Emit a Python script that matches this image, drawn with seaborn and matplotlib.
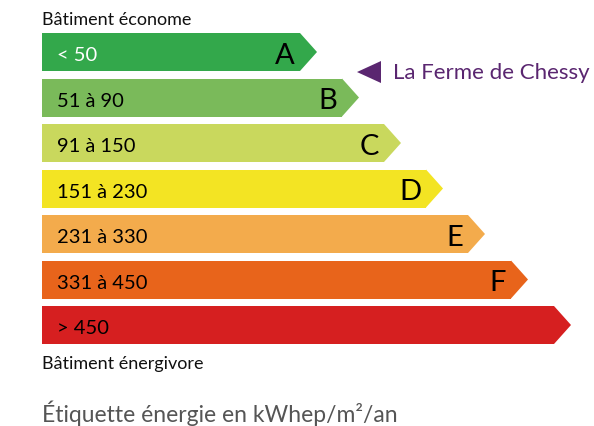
import numpy as np
import matplotlib
matplotlib.use("Agg")
import matplotlib.pyplot as plt
from matplotlib.patches import Polygon
import seaborn as sns

sns.set_theme(style="white")
plt.rcParams['font.family'] = ['Lato', 'DejaVu Sans']

# Energy label classes
grades = ['A', 'B', 'C', 'D', 'E', 'F', 'G']
ranges = ['< 50', '51 à 90', '91 à 150', '151 à 230', '231 à 330', '331 à 450', '> 450']
lengths = [258, 300, 342, 384, 426, 469, 512]
colors = ['#33a84b', '#7aba5a', '#c9d85d', '#f3e423', '#f3ab4c', '#e8641b', '#d61f20']
range_colors = ['white', 'black', 'black', 'black', 'black', 'black', 'black']
letters = ['A', 'B', 'C', 'D', 'E', 'F', '']
building_name = 'La Ferme de Chessy'
building_grade = 'A'  # arrow sits between A and B

fig = plt.figure(figsize=(5.94, 4.27), dpi=100)
ax = fig.add_axes([0, 0, 1, 1])

bar_h = 38 / 45.5
tip = 17

sns.barplot(x=lengths, y=grades, hue=grades, palette=colors, orient='h',
            width=bar_h, legend=False, ax=ax, linewidth=0, saturation=1)

# arrow tips + labels
for i, (L, c) in enumerate(zip(lengths, colors)):
    ax.add_patch(Polygon([(L, i - bar_h / 2), (L + tip, i), (L, i + bar_h / 2)],
                         closed=True, facecolor=c, edgecolor='none'))
    ax.text(15, i + 0.06, ranges[i], color=range_colors[i], fontsize=14.5,
            va='center', ha='left')
    if letters[i]:
        ax.text(L - 5, i + 0.06, letters[i], color='black', fontsize=21,
                va='center', ha='right')

ax.text(0, -0.72, 'Bâtiment économe', fontsize=13, color='#111111',
        va='center', ha='left')
ax.text(0, 6 + 0.83, 'Bâtiment énergivore', fontsize=13, color='#111111',
        va='center', ha='left')
ax.text(0, 7.92, 'Étiquette énergie en kWhep/m²/an', fontsize=16.5,
        color='#555555', va='center', ha='left')

# building marker
yb = grades.index(building_grade) + 0.44
ax.add_patch(Polygon([(315, yb), (339, yb - 11 / 45.5), (339, yb + 11 / 45.5)],
                     closed=True, facecolor='#5a2670', edgecolor='none'))
ax.text(351, yb, building_name, fontsize=16, color='#5a2670',
        va='center', ha='left')

ax.set_xlim(-42, 552)
ax.set_ylim((427 - 53) / 45.5, -53 / 45.5)
ax.axis('off')

fig.savefig('out.png', dpi=100)
